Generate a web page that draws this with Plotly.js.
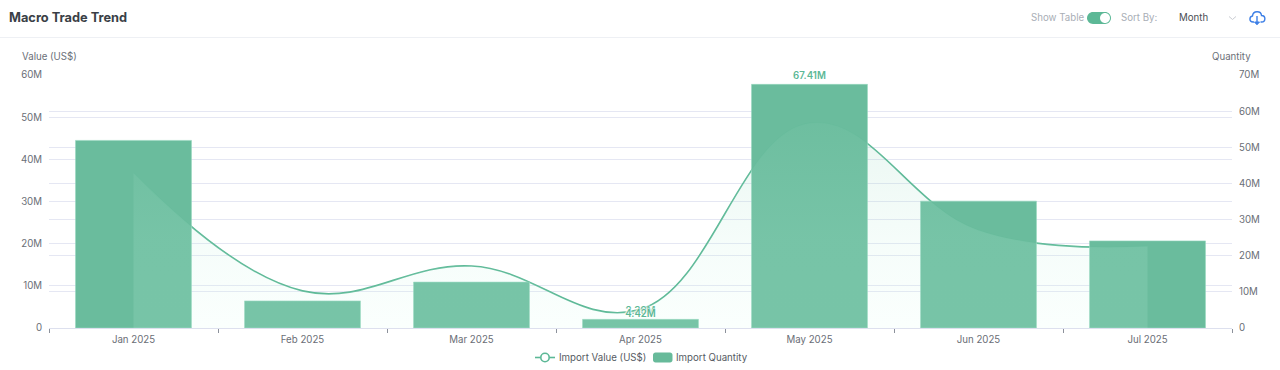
<!DOCTYPE html>
<html>
<head>
<meta charset="utf-8">
<script src="https://cdn.plot.ly/plotly-3.0.1.min.js"></script>
<style>html,body{margin:0;padding:0;background:#fff}#chart{width:1280px;height:370px}</style>
</head>
<body>
<div id="chart"></div>
<script>
const months = ['Jan 2025','Feb 2025','Mar 2025','Apr 2025','May 2025','Jun 2025','Jul 2025'];
const importValue = [36.8, 8.8, 14.7, 4.42, 48.6, 23.2, 19.4];
const importQuantity = [51.9, 7.5, 12.7, 2.39, 67.41, 35.1, 24.1];
const leftTicks = [0,10,20,30,40,50,60];
const leftLabels = ['0','10M','20M','30M','40M','50M','60M'];
const rightTicks = [0,10,20,30,40,50,60,70];
const rightLabels = ['0','10M','20M','30M','40M','50M','60M','70M'];
const valueLabels = ['','','','4.42M','','',''];
const quantityLabels = ['','','','2.39M','67.41M','',''];

const FONT = 'Inter, "Noto Sans", sans-serif';
const GREEN = '#5CB896';
const BAR = 'rgba(104,187,155,0.985)';
const GRID = '#E5E7F3';
const W = 1280, H = 370;
const px = x => x / W;
const py = y => 1 - y / H;
const halo = '0 0 2px #fff, 0 0 2px #fff, 0 0 1px #fff';
const FS = 9.7;
const SMOOTH = 1.15;

const traces = [
  {type:'scatter', mode:'lines', x:months, y:importValue, yaxis:'y', name:'Import Value (US$)', showlegend:false,
   line:{color:GREEN, width:1.6, shape:'spline', smoothing:SMOOTH}},
  {type:'bar', x:months, y:importQuantity, yaxis:'y2', name:'Import Quantity', showlegend:false,
   marker:{color:BAR, line:{color:'rgba(150,215,190,0.6)', width:1}},
   text:quantityLabels, textposition:'outside', cliponaxis:false,
   textfont:{family:FONT, size:FS, color:GREEN, weight:600, shadow:halo}},
  {type:'scatter', mode:'lines+text', x:months, y:importValue, yaxis:'y3', showlegend:false,
   line:{color:'rgba(0,0,0,0)', width:0, shape:'spline', smoothing:SMOOTH},
   fill:'tozeroy',
   fillgradient:{type:'vertical', start:0, stop:60,
     colorscale:[[0,'rgba(215,255,240,0.12)'],[0.35,'rgba(190,240,222,0.15)'],[1,'rgba(103,186,154,0.17)']]},
   text:valueLabels, textposition:'bottom center',
   textfont:{family:FONT, size:FS, color:GREEN, weight:600, shadow:halo}}
];

const tickFont = {family:FONT, size:FS, color:'#6A6E76'};
const note = (text, x, y, anchor, extra) => Object.assign({
  text, xref:'paper', yref:'paper', x:px(x), y:py(y), xanchor:anchor, yanchor:'middle',
  showarrow:false, borderpad:0, borderwidth:0, font:{family:FONT, size:FS, color:'#6B7078'}
}, extra || {});

const pt = (x, y) => px(x).toFixed(5) + ',' + py(y).toFixed(5);
const paperShape = (path, opts) => Object.assign({type:'path', xref:'paper', yref:'paper', path, layer:'above'}, opts);
const circlePath = (cx, cy, r) => {
  const k = r * 0.5523;
  return 'M' + pt(cx-r,cy) +
    ' C' + pt(cx-r,cy-k) + ' ' + pt(cx-k,cy-r) + ' ' + pt(cx,cy-r) +
    ' C' + pt(cx+k,cy-r) + ' ' + pt(cx+r,cy-k) + ' ' + pt(cx+r,cy) +
    ' C' + pt(cx+r,cy+k) + ' ' + pt(cx+k,cy+r) + ' ' + pt(cx,cy+r) +
    ' C' + pt(cx-k,cy+r) + ' ' + pt(cx-r,cy+k) + ' ' + pt(cx-r,cy) + ' Z';
};
const roundRect = (x0, x1, y0, y1, r) => {
  const k = r * 0.5523;
  return 'M' + pt(x0+r,y0) + ' L' + pt(x1-r,y0) +
    ' C' + pt(x1-r+k,y0) + ' ' + pt(x1,y0+r-k) + ' ' + pt(x1,y0+r) +
    ' L' + pt(x1,y1-r) +
    ' C' + pt(x1,y1-r+k) + ' ' + pt(x1-r+k,y1) + ' ' + pt(x1-r,y1) +
    ' L' + pt(x0+r,y1) +
    ' C' + pt(x0+r-k,y1) + ' ' + pt(x0,y1-r+k) + ' ' + pt(x0,y1-r) +
    ' L' + pt(x0,y0+r) +
    ' C' + pt(x0,y0+r-k) + ' ' + pt(x0+r-k,y0) + ' ' + pt(x0+r,y0) + ' Z';
};

const layout = {
  width:W, height:H,
  margin:{l:0, r:0, t:0, b:0, pad:0},
  paper_bgcolor:'#fff', plot_bgcolor:'#fff',
  font:{family:FONT, size:FS, color:'#6A6E76'},
  bargap:0.314,
  showlegend:false,
  xaxis:{domain:[49/W, 1232/W], type:'category', categoryorder:'array', categoryarray:months, tickson:'boundaries',
    ticks:'outside', ticklen:4, tickcolor:'#8C919B', tickwidth:1, showgrid:false, ticklabelstandoff:2,
    showline:true, linecolor:'#DDE0EE', linewidth:1, tickfont:tickFont, zeroline:false, fixedrange:true},
  yaxis:{domain:[42/H, 295/H], range:[0,60], tickmode:'array', tickvals:leftTicks, ticktext:leftLabels, gridcolor:GRID, gridwidth:1,
    zeroline:false, showline:false, ticks:'', tickfont:tickFont, ticklabelstandoff:6, fixedrange:true},
  yaxis2:{domain:[42/H, 295/H], range:[0,70], overlaying:'y', side:'right', tickmode:'array', tickvals:rightTicks, ticktext:rightLabels,
    gridcolor:GRID, gridwidth:1, showgrid:true, zeroline:false, showline:false, ticks:'', tickfont:tickFont,
    ticklabelstandoff:6, fixedrange:true},
  yaxis3:{domain:[42/H, 295/H], range:[0,60], overlaying:'y', side:'left', visible:false, showgrid:false, fixedrange:true},
  annotations:[
    note('Macro Trade Trend', 9, 18, 'left', {font:{family:FONT, size:12.8, color:'#3A3F46', weight:700}}),
    note('Show Table', 1084, 18, 'right', {font:{family:FONT, size:FS, color:'#A9AEB6'}}),
    note('Sort By:', 1158, 18, 'right', {font:{family:FONT, size:FS, color:'#A9AEB6'}}),
    note('Month', 1179, 18, 'left', {font:{family:FONT, size:FS, color:'#4A4E55'}}),
    note('Value (US$)', 22, 57, 'left'),
    note('Quantity', 1251, 57, 'right'),
    note('Import Value (US$)', 559, 357.5, 'left', {font:{family:FONT, size:FS, color:'#565B63'}}),
    note('Import Quantity', 676, 357.5, 'left', {font:{family:FONT, size:FS, color:'#565B63'}})
  ],
  shapes:[
    {type:'line', xref:'paper', yref:'paper', x0:0, x1:1, y0:py(37.5), y1:py(37.5), line:{color:'#EEF0F4', width:1}, layer:'above'},
    paperShape(roundRect(1087,1111,12,24,6), {fillcolor:'#5CB896', line:{width:0}}),
    paperShape(circlePath(1105,18,5), {fillcolor:'#fff', line:{width:0}}),
    paperShape('M'+pt(1229,16.5)+' L'+pt(1232.5,19.5)+' L'+pt(1236,16.5), {line:{color:'#C9CCD2', width:1}}),
    paperShape('M'+pt(1254,22)+' L'+pt(1253,22)+' C'+pt(1249,22)+' '+pt(1249,16.5)+' '+pt(1252.5,16)+
      ' C'+pt(1253,10.5)+' '+pt(1261,10.5)+' '+pt(1261.5,15.5)+' C'+pt(1266,15.5)+' '+pt(1266,22)+' '+pt(1261.5,22)+' L'+pt(1260.5,22),
      {line:{color:'#3D7FE6', width:1.4}}),
    paperShape('M'+pt(1257,16)+' L'+pt(1257,24), {line:{color:'#3D7FE6', width:1.4}}),
    paperShape('M'+pt(1254.5,22)+' L'+pt(1257,24.8)+' L'+pt(1259.5,22)+' Z', {fillcolor:'#3D7FE6', line:{color:'#3D7FE6', width:1}}),
    paperShape('M'+pt(535,357.5)+' L'+pt(555,357.5), {line:{color:GREEN, width:1.6}}),
    paperShape(circlePath(545,357.5,4.2), {fillcolor:'#fff', line:{color:GREEN, width:1.6}}),
    paperShape(roundRect(653,672.5,352.5,362.5,2.5), {fillcolor:'#67BA9A', line:{width:0}})
  ]
};

Plotly.newPlot('chart', traces, layout, {displayModeBar:false, staticPlot:true});
</script>
</body>
</html>
